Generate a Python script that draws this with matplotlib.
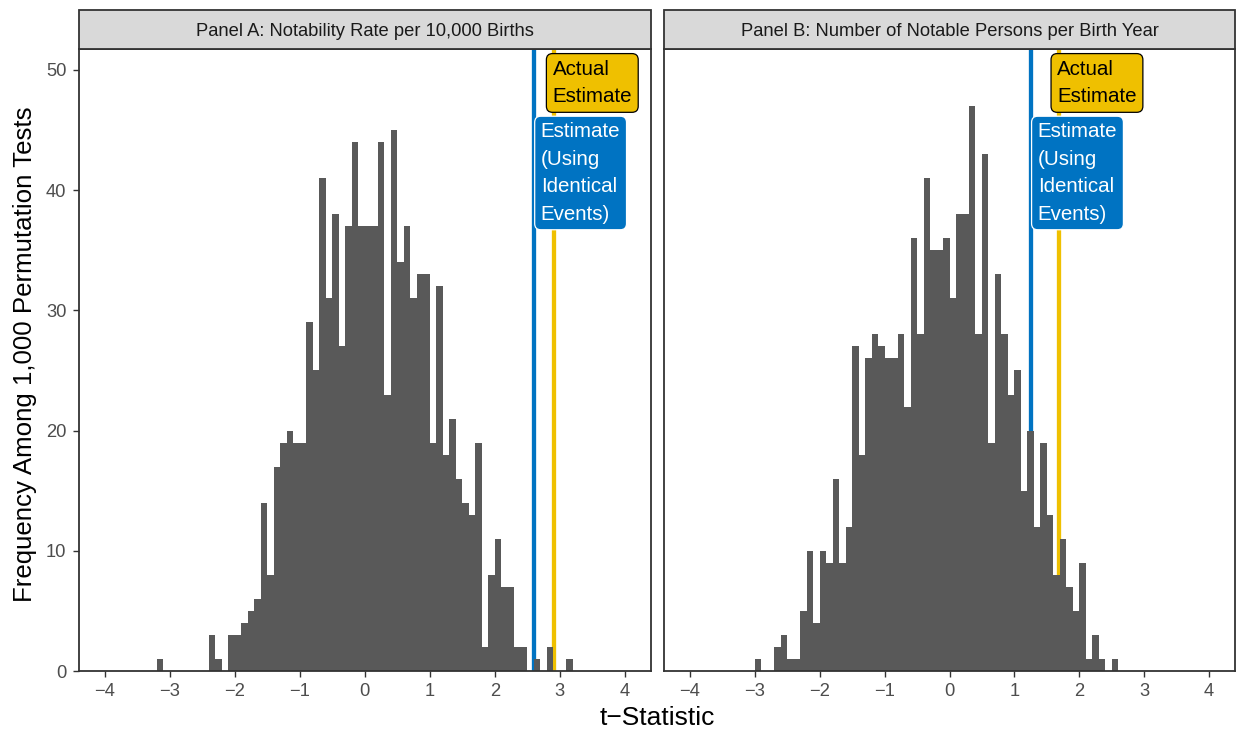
import matplotlib

matplotlib.use('Agg')
import matplotlib.pyplot as plt
import numpy as np
from matplotlib.patches import Rectangle

# permutation-test histograms, bin width 0.1
BIN_WIDTH = 0.1
START_A = -3.2
COUNTS_A = [1, 0, 0, 0, 0, 0, 0, 0, 3, 1, 0, 3, 3, 4, 5, 6,
            14, 8, 17, 19, 20, 19, 19, 29, 25, 41, 31, 38, 27, 37, 44, 37,
            37, 37, 44, 23, 45, 34, 37, 31, 33, 33, 19, 32, 18, 21, 16, 14,
            13, 19, 2, 8, 11, 7, 7, 2, 2, 0, 1, 0, 2, 0, 0, 1]
START_B = -3.0
COUNTS_B = [1, 0, 0, 2, 3, 1, 1, 5, 10, 4, 10, 9, 16, 9, 12, 27,
            18, 26, 28, 27, 26, 26, 28, 22, 36, 28, 41, 35, 35, 36, 31, 38,
            38, 47, 28, 43, 19, 33, 28, 23, 25, 15, 20, 12, 19, 13, 8, 11,
            7, 5, 9, 1, 3, 1, 0, 1]

IDENT_EST = [2.61, 1.26]   # estimate using identical events (blue)
ACTUAL_EST = [2.91, 1.68]  # actual estimate (yellow)
TITLES = ['Panel A: Notability Rate per 10,000 Births',
          'Panel B: Number of Notable Persons per Birth Year']
X_TICKS = [-4, -3, -2, -1, 0, 1, 2, 3, 4]
Y_TICKS = [0, 10, 20, 30, 40, 50]

BLUE = '#0073C2'
YELLOW = '#EFC000'
BAR = '#595959'
DARK = '#333333'

plt.rcParams['font.family'] = ['Liberation Sans', 'DejaVu Sans']

fig = plt.figure(figsize=(12.38, 7.34), dpi=100)
W, H = 1238, 734
panels = [(78.7, 650.7), (664, 1235)]
top_px, bot_px, strip_px = 49.3, 671, 9.7

panel_data = [(START_A, COUNTS_A), (START_B, COUNTS_B)]
axes = []
for k, (l, r) in enumerate(panels):
    ax = fig.add_axes([l / W, 1 - bot_px / H, (r - l) / W, (bot_px - top_px) / H])
    axes.append(ax)
    start, counts = panel_data[k]
    lefts = start + BIN_WIDTH * np.arange(len(counts))
    ax.axvline(IDENT_EST[k], color=BLUE, lw=3.1, zorder=1)
    ax.axvline(ACTUAL_EST[k], color=YELLOW, lw=3.1, zorder=1)
    ax.bar(lefts, counts, width=BIN_WIDTH, align='edge', color=BAR,
           linewidth=0, zorder=2)
    ax.set_xlim(-4.4, 4.4)
    ax.set_ylim(0, 51.72)
    ax.set_xticks(X_TICKS)
    ax.set_yticks(Y_TICKS)
    for s in ax.spines.values():
        s.set_color(DARK)
        s.set_linewidth(1.3)
    ax.tick_params(length=4.3, width=1.0, color=DARK, labelcolor='#4D4D4D',
                   labelsize=13.2, pad=4.5)
    if k == 1:
        ax.tick_params(axis='y', left=False, labelleft=False)

    # strip
    h_ax = bot_px - top_px
    strip = Rectangle((0, 1), 1, (top_px - strip_px) / h_ax,
                      transform=ax.transAxes, facecolor='#D9D9D9',
                      edgecolor=DARK, linewidth=1.3, clip_on=False, zorder=5)
    ax.add_patch(strip)
    ax.text(0.5, 1 + (top_px - strip_px) / h_ax / 2, TITLES[k],
            transform=ax.transAxes, ha='center', va='center_baseline',
            fontsize=13.2, color='#1A1A1A', zorder=6)

    ax.text(ACTUAL_EST[k] - 0.02, 50.85, 'Actual\nEstimate', ha='left',
            va='top', fontsize=14.8, color='black', linespacing=1.56,
            zorder=7,
            bbox=dict(boxstyle='round,pad=0.3,rounding_size=0.3',
                      facecolor=YELLOW, edgecolor='black', linewidth=0.9))
    ax.text(IDENT_EST[k] + 0.1, 45.64, 'Estimate\n(Using\nIdentical\nEvents)',
            ha='left', va='top', fontsize=14.8, color='white',
            linespacing=1.56, zorder=7,
            bbox=dict(boxstyle='round,pad=0.3,rounding_size=0.3',
                      facecolor=BLUE, edgecolor='white', linewidth=0.9))

fig.text((78.7 + 1235) / 2 / W, 1 - 718 / H, 't\u2212Statistic', ha='center',
         va='center', fontsize=19, color='black')
fig.text(25 / W, 1 - 354 / H, 'Frequency Among 1,000 Permutation Tests',
         ha='center', va='center', rotation=90, fontsize=18.6, color='black')

fig.savefig('out.png', dpi=100)
